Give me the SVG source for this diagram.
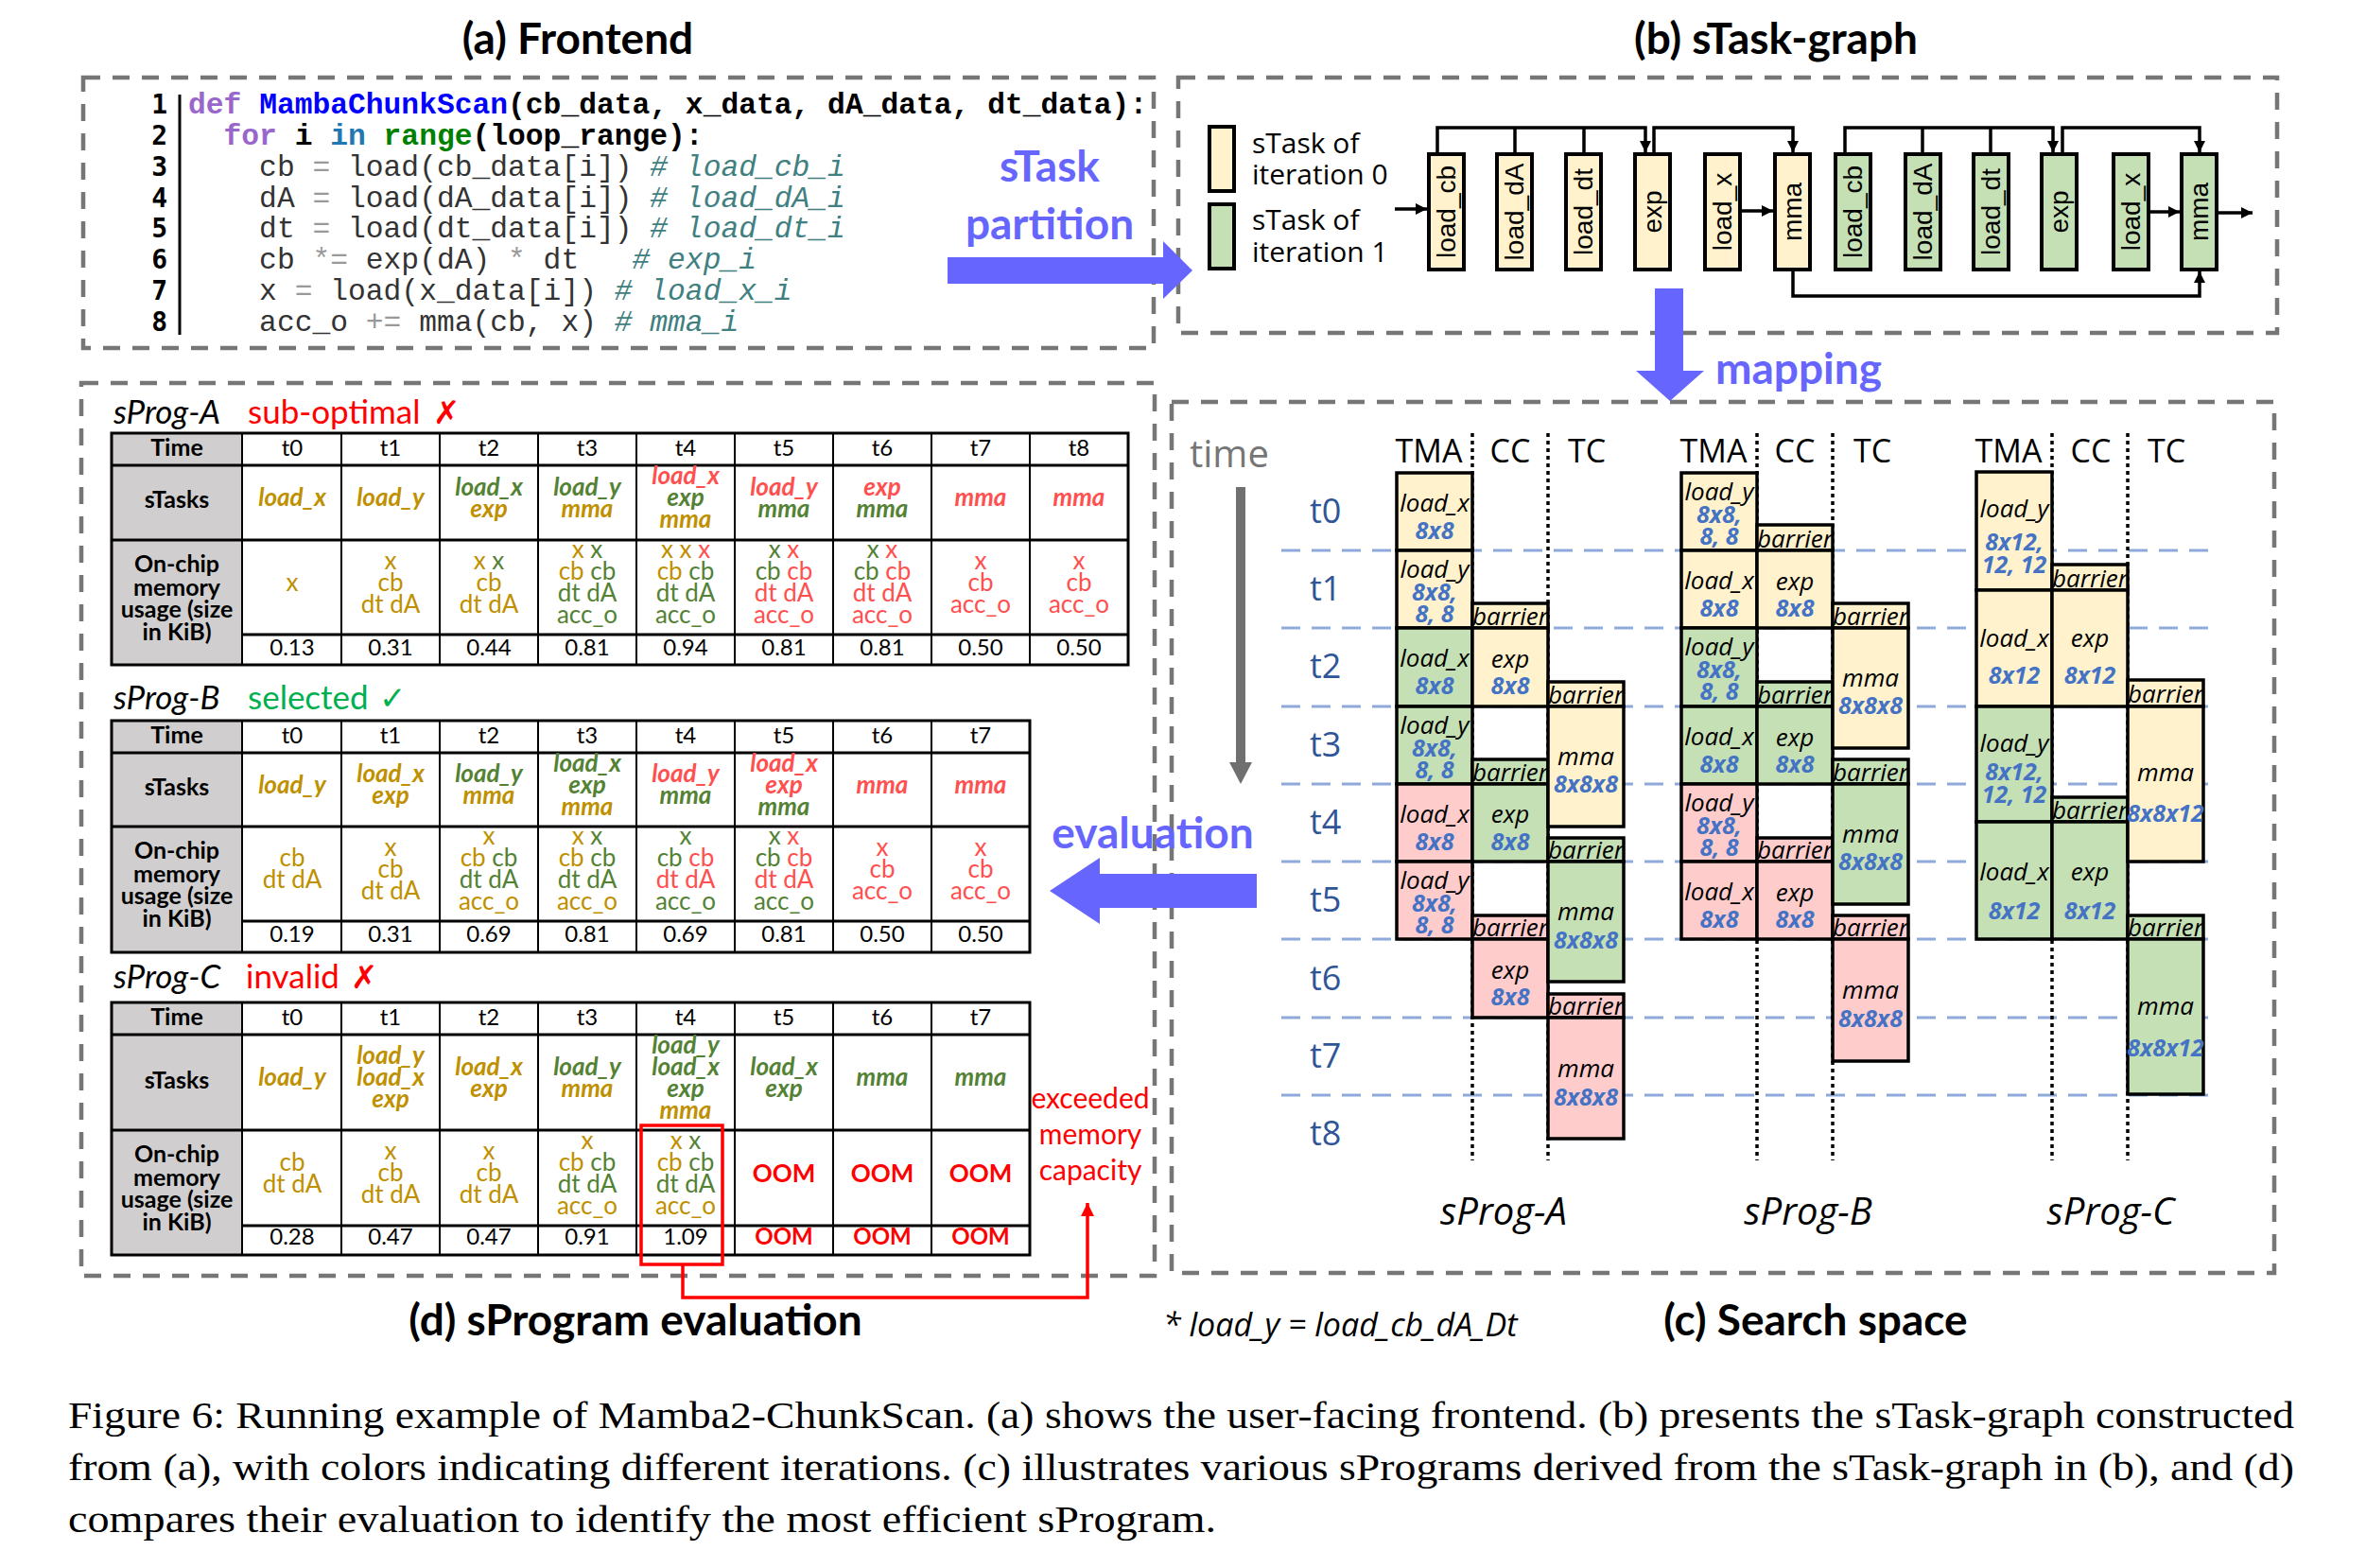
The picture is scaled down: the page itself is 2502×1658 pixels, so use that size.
<svg xmlns="http://www.w3.org/2000/svg" width="2502" height="1658" viewBox="0 0 2502 1658">
<defs>
<marker id="ah" viewBox="0 0 10 10" refX="10" refY="5" markerWidth="12" markerHeight="12" markerUnits="userSpaceOnUse" orient="auto"><path d="M0,0 L10,5 L0,10 z" fill="#000"/></marker>
<marker id="ahr" viewBox="0 0 10 10" refX="10" refY="5" markerWidth="14" markerHeight="14" markerUnits="userSpaceOnUse" orient="auto"><path d="M0,0 L10,5 L0,10 z" fill="#ff0000"/></marker>
<style>
.box{fill:none;stroke:#767676;stroke-width:4.5;stroke-dasharray:18 13}
.title{font-family:Lato,'Liberation Sans',sans-serif;font-weight:bold;font-size:46px;fill:#000;text-anchor:middle}
.code{font-family:'Liberation Mono',monospace;font-size:31.3px;white-space:pre;fill:#333}
.cb{font-weight:bold;fill:#000}
.ln{font-family:'DejaVu Sans Mono',monospace;font-weight:bold;font-size:28px;text-anchor:end}
.op{fill:#999}
.cm{fill:#408080;font-style:italic}
.big{font-family:Lato,sans-serif;font-weight:bold;font-size:46px;fill:#6666ff;text-anchor:middle}
.blue{fill:#6666ff}
.leg{font-family:'Open Sans',sans-serif;font-size:30px}
.nd{stroke:#000;stroke-width:4}
.yl{fill:#fff2cc}.gr{fill:#c5e0b4}.pk{fill:#ffcccc}
.nl{font-family:'Liberation Sans',Arial,sans-serif;font-size:28px;text-anchor:middle;dominant-baseline:central}
.edge{fill:none;stroke:#000;stroke-width:3.5}
.hd{font-family:'Open Sans',sans-serif;font-size:34px;text-anchor:middle}
.tl{font-family:'Open Sans',sans-serif;font-size:36px;fill:#2f5597}
.grid{stroke:#8eaadb;stroke-width:3;stroke-dasharray:20 12}
.dot{stroke:#000;stroke-width:3.5;stroke-dasharray:4 4}
.blk{stroke:#000;stroke-width:3.5}
.bn{font-family:'Open Sans',sans-serif;font-style:italic;font-size:26px;text-anchor:middle}
.bs{font-family:'Open Sans',sans-serif;font-style:italic;font-weight:bold;font-size:25px;fill:#4472c4;text-anchor:middle}
.sp{font-family:'Open Sans',sans-serif;font-style:italic;font-size:40px;text-anchor:middle}
.tb{fill:none;stroke:#000;stroke-width:3}
.tv{stroke:#000;stroke-width:2}
.th{stroke:#000;stroke-width:3}
.hc{font-family:Lato,sans-serif;font-weight:bold;font-size:25px;text-anchor:middle}
.tc{font-family:Lato,sans-serif;font-size:24px;text-anchor:middle}
.sk{font-family:Lato,sans-serif;font-style:italic;font-weight:bold;font-size:26px;text-anchor:middle}
.mm{font-family:Lato,sans-serif;font-size:26px;text-anchor:middle}
.cy{fill:#bf9000}.cg{fill:#548235}.cr{fill:#ff5050}
.oom{fill:#ff0000;font-weight:bold}
.ph{font-family:Lato,sans-serif;font-style:italic;font-size:35px}
.st{font-family:Lato,sans-serif;font-size:35px}
.mk{font-family:'DejaVu Sans',sans-serif;font-size:34px;font-weight:bold}
.cap{font-family:'Liberation Serif','Times New Roman',serif;font-size:41px}
</style>
</defs>
<rect width="2502" height="1658" fill="#fff"/>

<!-- titles -->
<text class="title" x="611" y="57">(a) Frontend</text>
<text class="title" x="1878" y="57">(b) sTask-graph</text>
<text class="title" x="672" y="1412">(d) sProgram evaluation</text>
<text class="title" x="1920" y="1412">(c) Search space</text>
<text x="1230" y="1413" style="font-family:'Open Sans',sans-serif;font-style:italic;font-size:34px">* load_y = load_cb_dA_Dt</text>

<!-- frames -->
<rect class="box" x="88" y="82" width="1132" height="286"/>
<rect class="box" x="1246" y="82" width="1162" height="270"/>
<rect class="box" x="86" y="405" width="1135" height="944"/>
<rect class="box" x="1239" y="425" width="1166" height="921"/>

<!-- (a) frontend code -->
<g id="frontend">
<line x1="190" y1="100" x2="190" y2="354" stroke="#000" stroke-width="3"/>
<text class="ln" x="177" y="120">1</text>
<text class="ln" x="177" y="153">2</text>
<text class="ln" x="177" y="186">3</text>
<text class="ln" x="177" y="219">4</text>
<text class="ln" x="177" y="251">5</text>
<text class="ln" x="177" y="284">6</text>
<text class="ln" x="177" y="317">7</text>
<text class="ln" x="177" y="350">8</text>
<text class="code cb" x="199" y="120" xml:space="preserve"><tspan fill="#9966cc">def</tspan> <tspan fill="#0000ff">MambaChunkScan</tspan>(cb_data, x_data, dA_data, dt_data):</text>
<text class="code cb" x="199" y="153" xml:space="preserve">  <tspan fill="#9966cc">for</tspan> i <tspan fill="#1f77b4">in</tspan> <tspan fill="#008000">range</tspan>(loop_range):</text>
<text class="code" x="199" y="186" xml:space="preserve">    cb <tspan class="op">=</tspan> load(cb_data[i]) <tspan class="cm"># load_cb_i</tspan></text>
<text class="code" x="199" y="219" xml:space="preserve">    dA <tspan class="op">=</tspan> load(dA_data[i]) <tspan class="cm"># load_dA_i</tspan></text>
<text class="code" x="199" y="251" xml:space="preserve">    dt <tspan class="op">=</tspan> load(dt_data[i]) <tspan class="cm"># load_dt_i</tspan></text>
<text class="code" x="199" y="284" xml:space="preserve">    cb <tspan class="op">*=</tspan> exp(dA) <tspan class="op">*</tspan> dt   <tspan class="cm"># exp_i</tspan></text>
<text class="code" x="199" y="317" xml:space="preserve">    x <tspan class="op">=</tspan> load(x_data[i]) <tspan class="cm"># load_x_i</tspan></text>
<text class="code" x="199" y="350" xml:space="preserve">    acc_o <tspan class="op">+=</tspan> mma(cb, x) <tspan class="cm"># mma_i</tspan></text>
</g>

<!-- big labels -->
<text class="big" x="1110" y="192">sTask</text>
<text class="big" x="1110" y="253">partition</text>
<text class="big" x="1902" y="406">mapping</text>
<text class="big" x="1219" y="897">evaluation</text>

<!-- (b) legend -->
<g id="legend">
<rect class="nd yl" x="1279" y="134" width="26" height="68"/>
<rect class="nd gr" x="1279" y="216" width="26" height="68"/>
<text class="leg" x="1324" y="162">sTask of</text>
<text class="leg" x="1324" y="195">iteration 0</text>
<text class="leg" x="1324" y="243">sTask of</text>
<text class="leg" x="1324" y="277">iteration 1</text>
</g>

<!-- (b) nodes -->
<g id="n0"><rect class="nd yl" x="1511" y="163" width="37" height="122"/><text class="nl" transform="translate(1529.5,224) rotate(-90)">load_cb</text></g>
<g id="n1"><rect class="nd yl" x="1583" y="163" width="37" height="122"/><text class="nl" transform="translate(1601.5,224) rotate(-90)">load_dA</text></g>
<g id="n2"><rect class="nd yl" x="1656" y="163" width="37" height="122"/><text class="nl" transform="translate(1674.5,224) rotate(-90)">load_dt</text></g>
<g id="n3"><rect class="nd yl" x="1729" y="163" width="37" height="122"/><text class="nl" transform="translate(1747.5,224) rotate(-90)">exp</text></g>
<g id="n4"><rect class="nd yl" x="1803" y="163" width="37" height="122"/><text class="nl" transform="translate(1821.5,224) rotate(-90)">load_x</text></g>
<g id="n5"><rect class="nd yl" x="1877" y="163" width="37" height="122"/><text class="nl" transform="translate(1895.5,224) rotate(-90)">mma</text></g>
<g id="n6"><rect class="nd gr" x="1941" y="163" width="37" height="122"/><text class="nl" transform="translate(1959.5,224) rotate(-90)">load_cb</text></g>
<g id="n7"><rect class="nd gr" x="2015" y="163" width="37" height="122"/><text class="nl" transform="translate(2033.5,224) rotate(-90)">load_dA</text></g>
<g id="n8"><rect class="nd gr" x="2087" y="163" width="37" height="122"/><text class="nl" transform="translate(2105.5,224) rotate(-90)">load_dt</text></g>
<g id="n9"><rect class="nd gr" x="2159" y="163" width="37" height="122"/><text class="nl" transform="translate(2177.5,224) rotate(-90)">exp</text></g>
<g id="n10"><rect class="nd gr" x="2235" y="163" width="37" height="122"/><text class="nl" transform="translate(2253.5,224) rotate(-90)">load_x</text></g>
<g id="n11"><rect class="nd gr" x="2307" y="163" width="37" height="122"/><text class="nl" transform="translate(2325.5,224) rotate(-90)">mma</text></g>

<!-- connectors -->
<g id="connectors">
<polyline class="edge" points="1520,161 1520,135 1740,135 1740,161" marker-end="url(#ah)"/>
<line class="edge" x1="1602" y1="161" x2="1602" y2="135"/>
<line class="edge" x1="1675" y1="161" x2="1675" y2="135"/>
<polyline class="edge" points="1749,161 1749,135 1896,135 1896,161" marker-end="url(#ah)"/>
<polyline class="edge" points="1951,161 1951,135 2171,135 2171,161" marker-end="url(#ah)"/>
<line class="edge" x1="2033" y1="161" x2="2033" y2="135"/>
<line class="edge" x1="2105" y1="161" x2="2105" y2="135"/>
<polyline class="edge" points="2181,161 2181,135 2326,135 2326,161" marker-end="url(#ah)"/>
<polyline class="edge" points="1896,287 1896,313 2326,313 2326,287" marker-end="url(#ah)"/>
<line class="edge" x1="1475" y1="221" x2="1509" y2="221" stroke-width="4" marker-end="url(#ah)"/>
<line class="edge" x1="1840" y1="223" x2="1875" y2="223" stroke-width="4" marker-end="url(#ah)"/>
<line class="edge" x1="2272" y1="224" x2="2305" y2="224" stroke-width="4" marker-end="url(#ah)"/>
<line class="edge" x1="2346" y1="225" x2="2382" y2="225" stroke-width="4" marker-end="url(#ah)"/>
<polygon class="blue" points="1002,272 1230,272 1230,255 1261,286 1230,316 1230,300 1002,300"/>
<polygon class="blue" points="1750,305 1780,305 1780,392 1802,392 1766,424 1730,392 1750,392"/>
<polygon class="blue" points="1329,924 1163,924 1163,907 1110,942 1163,977 1163,960 1329,960"/>
<polyline fill="none" stroke="#ff0000" stroke-width="3.5" points="722,1337 722,1372 1150,1372 1150,1272" marker-end="url(#ahr)"/>
</g>

<!-- (c) search space -->
<g id="search-space">
<text x="1258" y="494" style="font-family:'Open Sans',sans-serif;font-size:40px;fill:#767676">time</text>
<rect x="1307" y="515" width="10" height="292" fill="#707070"/>
<polygon points="1300,806 1324,806 1312,829" fill="#707070"/>
<text class="tl" x="1385" y="553">t0</text>
<text class="tl" x="1385" y="635">t1</text>
<text class="tl" x="1385" y="717">t2</text>
<text class="tl" x="1385" y="800">t3</text>
<text class="tl" x="1385" y="882">t4</text>
<text class="tl" x="1385" y="964">t5</text>
<text class="tl" x="1385" y="1047">t6</text>
<text class="tl" x="1385" y="1129">t7</text>
<text class="tl" x="1385" y="1211">t8</text>
<line class="grid" x1="1355" y1="582" x2="2346" y2="582"/>
<line class="grid" x1="1355" y1="664" x2="2346" y2="664"/>
<line class="grid" x1="1355" y1="747" x2="2346" y2="747"/>
<line class="grid" x1="1355" y1="829" x2="2346" y2="829"/>
<line class="grid" x1="1355" y1="911" x2="2346" y2="911"/>
<line class="grid" x1="1355" y1="993" x2="2346" y2="993"/>
<line class="grid" x1="1355" y1="1076" x2="2346" y2="1076"/>
<line class="grid" x1="1355" y1="1158" x2="2346" y2="1158"/>
<line class="dot" x1="1557" y1="458" x2="1557" y2="1227"/>
<line class="dot" x1="1637" y1="458" x2="1637" y2="1227"/>
<line class="dot" x1="1858" y1="458" x2="1858" y2="1227"/>
<line class="dot" x1="1938" y1="458" x2="1938" y2="1227"/>
<line class="dot" x1="2170" y1="458" x2="2170" y2="1227"/>
<line class="dot" x1="2250" y1="458" x2="2250" y2="1227"/>
<text class="hd" x="1511" y="489">TMA</text><text class="hd" x="1597" y="489">CC</text><text class="hd" x="1678" y="489">TC</text>
<text class="hd" x="1812" y="489">TMA</text><text class="hd" x="1898" y="489">CC</text><text class="hd" x="1980" y="489">TC</text>
<text class="hd" x="2124" y="489">TMA</text><text class="hd" x="2211" y="489">CC</text><text class="hd" x="2291" y="489">TC</text>
<text class="sp" x="1590" y="1295">sProg-A</text>
<text class="sp" x="1912" y="1295">sProg-B</text>
<text class="sp" x="2232" y="1295">sProg-C</text>
</g>

<!-- sProg-A blocks -->
<g id="a1"><rect class="blk yl" x="1477" y="500" width="80" height="82"/><text class="bn" x="1517" y="541">load_x</text><text class="bs" x="1517" y="570">8x8</text></g>
<g id="a2"><rect class="blk yl" x="1477" y="582" width="80" height="82"/><text class="bn" x="1517" y="611">load_y</text><text class="bs" x="1517" y="635">8x8,</text><text class="bs" x="1517" y="658">8, 8</text></g>
<g id="a3"><rect class="blk gr" x="1477" y="664" width="80" height="83"/><text class="bn" x="1517" y="705">load_x</text><text class="bs" x="1517" y="734">8x8</text></g>
<g id="a4"><rect class="blk gr" x="1477" y="747" width="80" height="82"/><text class="bn" x="1517" y="776">load_y</text><text class="bs" x="1517" y="800">8x8,</text><text class="bs" x="1517" y="823">8, 8</text></g>
<g id="a5"><rect class="blk pk" x="1477" y="829" width="80" height="82"/><text class="bn" x="1517" y="870">load_x</text><text class="bs" x="1517" y="899">8x8</text></g>
<g id="a6"><rect class="blk pk" x="1477" y="911" width="80" height="82"/><text class="bn" x="1517" y="940">load_y</text><text class="bs" x="1517" y="964">8x8,</text><text class="bs" x="1517" y="987">8, 8</text></g>
<g id="a7"><rect class="blk yl" x="1557" y="638" width="80" height="26"/><text class="bn" x="1597" y="661">barrier</text></g>
<g id="a8"><rect class="blk yl" x="1557" y="664" width="80" height="83"/><text class="bn" x="1597" y="706">exp</text><text class="bs" x="1597" y="734">8x8</text></g>
<g id="a9"><rect class="blk gr" x="1557" y="803" width="80" height="26"/><text class="bn" x="1597" y="826">barrier</text></g>
<g id="a10"><rect class="blk gr" x="1557" y="829" width="80" height="82"/><text class="bn" x="1597" y="870">exp</text><text class="bs" x="1597" y="899">8x8</text></g>
<g id="a11"><rect class="blk pk" x="1557" y="968" width="80" height="25"/><text class="bn" x="1597" y="990">barrier</text></g>
<g id="a12"><rect class="blk pk" x="1557" y="993" width="80" height="83"/><text class="bn" x="1597" y="1035">exp</text><text class="bs" x="1597" y="1063">8x8</text></g>
<g id="a13"><rect class="blk yl" x="1637" y="721" width="80" height="26"/><text class="bn" x="1677" y="744">barrier</text></g>
<g id="a14"><rect class="blk yl" x="1637" y="747" width="80" height="127"/><text class="bn" x="1677" y="809">mma</text><text class="bs" x="1677" y="838">8x8x8</text></g>
<g id="a15"><rect class="blk gr" x="1637" y="886" width="80" height="25"/><text class="bn" x="1677" y="908">barrier</text></g>
<g id="a16"><rect class="blk gr" x="1637" y="911" width="80" height="127"/><text class="bn" x="1677" y="973">mma</text><text class="bs" x="1677" y="1003">8x8x8</text></g>
<g id="a17"><rect class="blk pk" x="1637" y="1051" width="80" height="25"/><text class="bn" x="1677" y="1073">barrier</text></g>
<g id="a18"><rect class="blk pk" x="1637" y="1076" width="80" height="128"/><text class="bn" x="1677" y="1139">mma</text><text class="bs" x="1677" y="1169">8x8x8</text></g>

<!-- sProg-B blocks -->
<g id="b1"><rect class="blk yl" x="1778" y="500" width="80" height="82"/><text class="bn" x="1818" y="529">load_y</text><text class="bs" x="1818" y="553">8x8,</text><text class="bs" x="1818" y="576">8, 8</text></g>
<g id="b2"><rect class="blk yl" x="1778" y="582" width="80" height="82"/><text class="bn" x="1818" y="623">load_x</text><text class="bs" x="1818" y="652">8x8</text></g>
<g id="b3"><rect class="blk gr" x="1778" y="664" width="80" height="83"/><text class="bn" x="1818" y="693">load_y</text><text class="bs" x="1818" y="717">8x8,</text><text class="bs" x="1818" y="740">8, 8</text></g>
<g id="b4"><rect class="blk gr" x="1778" y="747" width="80" height="82"/><text class="bn" x="1818" y="788">load_x</text><text class="bs" x="1818" y="817">8x8</text></g>
<g id="b5"><rect class="blk pk" x="1778" y="829" width="80" height="82"/><text class="bn" x="1818" y="858">load_y</text><text class="bs" x="1818" y="882">8x8,</text><text class="bs" x="1818" y="905">8, 8</text></g>
<g id="b6"><rect class="blk pk" x="1778" y="911" width="80" height="82"/><text class="bn" x="1818" y="952">load_x</text><text class="bs" x="1818" y="981">8x8</text></g>
<g id="b7"><rect class="blk yl" x="1858" y="555" width="80" height="27"/><text class="bn" x="1898" y="579">barrier</text></g>
<g id="b8"><rect class="blk yl" x="1858" y="582" width="80" height="82"/><text class="bn" x="1898" y="624">exp</text><text class="bs" x="1898" y="652">8x8</text></g>
<g id="b9"><rect class="blk gr" x="1858" y="721" width="80" height="26"/><text class="bn" x="1898" y="744">barrier</text></g>
<g id="b10"><rect class="blk gr" x="1858" y="747" width="80" height="82"/><text class="bn" x="1898" y="789">exp</text><text class="bs" x="1898" y="817">8x8</text></g>
<g id="b11"><rect class="blk pk" x="1858" y="886" width="80" height="25"/><text class="bn" x="1898" y="908">barrier</text></g>
<g id="b12"><rect class="blk pk" x="1858" y="911" width="80" height="82"/><text class="bn" x="1898" y="953">exp</text><text class="bs" x="1898" y="981">8x8</text></g>
<g id="b13"><rect class="blk yl" x="1938" y="638" width="80" height="26"/><text class="bn" x="1978" y="661">barrier</text></g>
<g id="b14"><rect class="blk yl" x="1938" y="664" width="80" height="127"/><text class="bn" x="1978" y="726">mma</text><text class="bs" x="1978" y="755">8x8x8</text></g>
<g id="b15"><rect class="blk gr" x="1938" y="803" width="80" height="26"/><text class="bn" x="1978" y="826">barrier</text></g>
<g id="b16"><rect class="blk gr" x="1938" y="829" width="80" height="127"/><text class="bn" x="1978" y="891">mma</text><text class="bs" x="1978" y="920">8x8x8</text></g>
<g id="b17"><rect class="blk pk" x="1938" y="968" width="80" height="25"/><text class="bn" x="1978" y="990">barrier</text></g>
<g id="b18"><rect class="blk pk" x="1938" y="993" width="80" height="129"/><text class="bn" x="1978" y="1056">mma</text><text class="bs" x="1978" y="1086">8x8x8</text></g>

<!-- sProg-C blocks -->
<g id="c1"><rect class="blk yl" x="2090" y="499" width="80" height="125"/><text class="bn" x="2130" y="547">load_y</text><text class="bs" x="2130" y="582">8x12,</text><text class="bs" x="2130" y="606">12, 12</text></g>
<g id="c2"><rect class="blk yl" x="2090" y="624" width="80" height="123"/><text class="bn" x="2130" y="684">load_x</text><text class="bs" x="2130" y="723">8x12</text></g>
<g id="c3"><rect class="blk gr" x="2090" y="747" width="80" height="122"/><text class="bn" x="2130" y="795">load_y</text><text class="bs" x="2130" y="825">8x12,</text><text class="bs" x="2130" y="849">12, 12</text></g>
<g id="c4"><rect class="blk gr" x="2090" y="869" width="80" height="124"/><text class="bn" x="2130" y="931">load_x</text><text class="bs" x="2130" y="972">8x12</text></g>
<g id="c5"><rect class="blk yl" x="2170" y="597" width="80" height="27"/><text class="bn" x="2210" y="621">barrier</text></g>
<g id="c6"><rect class="blk yl" x="2170" y="624" width="80" height="123"/><text class="bn" x="2210" y="684">exp</text><text class="bs" x="2210" y="723">8x12</text></g>
<g id="c7"><rect class="blk gr" x="2170" y="843" width="80" height="26"/><text class="bn" x="2210" y="866">barrier</text></g>
<g id="c8"><rect class="blk gr" x="2170" y="869" width="80" height="124"/><text class="bn" x="2210" y="931">exp</text><text class="bs" x="2210" y="972">8x12</text></g>
<g id="c9"><rect class="blk yl" x="2250" y="719" width="80" height="28"/><text class="bn" x="2290" y="743">barrier</text></g>
<g id="c10"><rect class="blk yl" x="2250" y="747" width="80" height="164"/><text class="bn" x="2290" y="826">mma</text><text class="bs" x="2290" y="869">8x8x12</text></g>
<g id="c11"><rect class="blk gr" x="2250" y="968" width="80" height="25"/><text class="bn" x="2290" y="990">barrier</text></g>
<g id="c12"><rect class="blk gr" x="2250" y="993" width="80" height="164"/><text class="bn" x="2290" y="1073">mma</text><text class="bs" x="2290" y="1117">8x8x12</text></g>

<!-- (d) table A -->
<g id="table-a">
<text class="ph" x="120" y="448">sProg-A</text>
<text class="st" x="262" y="448" fill="#ff0000">sub-optimal</text>
<text class="mk" x="458" y="448" fill="#ff0000">✗</text>
<rect x="118" y="458" width="138" height="245" fill="#d0cece"/>
<line class="th" x1="118" y1="492" x2="1193" y2="492"/>
<line class="th" x1="118" y1="571" x2="1193" y2="571"/>
<line class="th" x1="256" y1="671" x2="1193" y2="671"/>
<line class="tv" x1="256" y1="458" x2="256" y2="703"/>
<line class="tv" x1="361" y1="458" x2="361" y2="703"/>
<line class="tv" x1="465" y1="458" x2="465" y2="703"/>
<line class="tv" x1="569" y1="458" x2="569" y2="703"/>
<line class="tv" x1="673" y1="458" x2="673" y2="703"/>
<line class="tv" x1="777" y1="458" x2="777" y2="703"/>
<line class="tv" x1="881" y1="458" x2="881" y2="703"/>
<line class="tv" x1="985" y1="458" x2="985" y2="703"/>
<line class="tv" x1="1089" y1="458" x2="1089" y2="703"/>
<rect class="tb" x="118" y="458" width="1075" height="245"/>
<text class="hc" x="187" y="482">Time</text>
<text class="hc" x="187" y="537">sTasks</text>
<text class="hc" x="187" y="605">On-chip</text><text class="hc" x="187" y="630">memory</text><text class="hc" x="187" y="653">usage (size</text><text class="hc" x="187" y="677">in KiB)</text>
<text class="tc" x="309" y="482">t0</text><text class="tc" x="413" y="482">t1</text><text class="tc" x="517" y="482">t2</text><text class="tc" x="621" y="482">t3</text><text class="tc" x="725" y="482">t4</text><text class="tc" x="829" y="482">t5</text><text class="tc" x="933" y="482">t6</text><text class="tc" x="1037" y="482">t7</text><text class="tc" x="1141" y="482">t8</text>
<text class="sk cy" x="309" y="535">load_x</text>
<text class="sk cy" x="413" y="535">load_y</text>
<text class="sk cg" x="517" y="524">load_x</text><text class="sk cy" x="517" y="547">exp</text>
<text class="sk cg" x="621" y="524">load_y</text><text class="sk cy" x="621" y="547">mma</text>
<text class="sk cr" x="725" y="512">load_x</text><text class="sk cg" x="725" y="535">exp</text><text class="sk cy" x="725" y="558">mma</text>
<text class="sk cr" x="829" y="524">load_y</text><text class="sk cg" x="829" y="547">mma</text>
<text class="sk cr" x="933" y="524">exp</text><text class="sk cg" x="933" y="547">mma</text>
<text class="sk cr" x="1037" y="535">mma</text>
<text class="sk cr" x="1141" y="535">mma</text>
<text class="mm cy" x="309" y="625">x</text>
<text class="mm cy" x="413" y="602">x</text><text class="mm cy" x="413" y="625">cb</text><text class="mm cy" x="413" y="648">dt dA</text>
<text class="mm" x="517" y="602"><tspan class="cy">x</tspan> <tspan class="cg">x</tspan></text><text class="mm cy" x="517" y="625">cb</text><text class="mm cy" x="517" y="648">dt dA</text>
<text class="mm" x="621" y="590"><tspan class="cy">x</tspan> <tspan class="cg">x</tspan></text><text class="mm" x="621" y="613"><tspan class="cy">cb</tspan> <tspan class="cg">cb</tspan></text><text class="mm cg" x="621" y="636">dt dA</text><text class="mm cg" x="621" y="659">acc_o</text>
<text class="mm" x="725" y="590"><tspan class="cy">x</tspan> <tspan class="cy">x</tspan> <tspan class="cr">x</tspan></text><text class="mm" x="725" y="613"><tspan class="cy">cb</tspan> <tspan class="cg">cb</tspan></text><text class="mm cg" x="725" y="636">dt dA</text><text class="mm cg" x="725" y="659">acc_o</text>
<text class="mm" x="829" y="590"><tspan class="cg">x</tspan> <tspan class="cr">x</tspan></text><text class="mm" x="829" y="613"><tspan class="cg">cb</tspan> <tspan class="cr">cb</tspan></text><text class="mm cr" x="829" y="636">dt dA</text><text class="mm cr" x="829" y="659">acc_o</text>
<text class="mm" x="933" y="590"><tspan class="cg">x</tspan> <tspan class="cr">x</tspan></text><text class="mm" x="933" y="613"><tspan class="cg">cb</tspan> <tspan class="cr">cb</tspan></text><text class="mm cr" x="933" y="636">dt dA</text><text class="mm cr" x="933" y="659">acc_o</text>
<text class="mm cr" x="1037" y="602">x</text><text class="mm cr" x="1037" y="625">cb</text><text class="mm cr" x="1037" y="648">acc_o</text>
<text class="mm cr" x="1141" y="602">x</text><text class="mm cr" x="1141" y="625">cb</text><text class="mm cr" x="1141" y="648">acc_o</text>
<text class="tc" x="309" y="693">0.13</text><text class="tc" x="413" y="693">0.31</text><text class="tc" x="517" y="693">0.44</text><text class="tc" x="621" y="693">0.81</text><text class="tc" x="725" y="693">0.94</text><text class="tc" x="829" y="693">0.81</text><text class="tc" x="933" y="693">0.81</text><text class="tc" x="1037" y="693">0.50</text><text class="tc" x="1141" y="693">0.50</text>
</g>

<!-- (d) table B -->
<g id="table-b">
<text class="ph" x="120" y="750">sProg-B</text>
<text class="st" x="262" y="750" fill="#00b050">selected</text>
<text class="mk" x="401" y="750" fill="#00b050">✓</text>
<rect x="118" y="762" width="138" height="245" fill="#d0cece"/>
<line class="th" x1="118" y1="796" x2="1089" y2="796"/>
<line class="th" x1="118" y1="874" x2="1089" y2="874"/>
<line class="th" x1="256" y1="974" x2="1089" y2="974"/>
<line class="tv" x1="256" y1="762" x2="256" y2="1007"/>
<line class="tv" x1="361" y1="762" x2="361" y2="1007"/>
<line class="tv" x1="465" y1="762" x2="465" y2="1007"/>
<line class="tv" x1="569" y1="762" x2="569" y2="1007"/>
<line class="tv" x1="673" y1="762" x2="673" y2="1007"/>
<line class="tv" x1="777" y1="762" x2="777" y2="1007"/>
<line class="tv" x1="881" y1="762" x2="881" y2="1007"/>
<line class="tv" x1="985" y1="762" x2="985" y2="1007"/>
<rect class="tb" x="118" y="762" width="971" height="245"/>
<text class="hc" x="187" y="786">Time</text>
<text class="hc" x="187" y="841">sTasks</text>
<text class="hc" x="187" y="908">On-chip</text><text class="hc" x="187" y="933">memory</text><text class="hc" x="187" y="956">usage (size</text><text class="hc" x="187" y="980">in KiB)</text>
<text class="tc" x="309" y="786">t0</text><text class="tc" x="413" y="786">t1</text><text class="tc" x="517" y="786">t2</text><text class="tc" x="621" y="786">t3</text><text class="tc" x="725" y="786">t4</text><text class="tc" x="829" y="786">t5</text><text class="tc" x="933" y="786">t6</text><text class="tc" x="1037" y="786">t7</text>
<text class="sk cy" x="309" y="839">load_y</text>
<text class="sk cy" x="413" y="827">load_x</text><text class="sk cy" x="413" y="850">exp</text>
<text class="sk cg" x="517" y="827">load_y</text><text class="sk cy" x="517" y="850">mma</text>
<text class="sk cg" x="621" y="816">load_x</text><text class="sk cg" x="621" y="839">exp</text><text class="sk cy" x="621" y="862">mma</text>
<text class="sk cr" x="725" y="827">load_y</text><text class="sk cg" x="725" y="850">mma</text>
<text class="sk cr" x="829" y="816">load_x</text><text class="sk cr" x="829" y="839">exp</text><text class="sk cg" x="829" y="862">mma</text>
<text class="sk cr" x="933" y="839">mma</text>
<text class="sk cr" x="1037" y="839">mma</text>
<text class="mm cy" x="309" y="916">cb</text><text class="mm cy" x="309" y="939">dt dA</text>
<text class="mm cy" x="413" y="905">x</text><text class="mm cy" x="413" y="928">cb</text><text class="mm cy" x="413" y="951">dt dA</text>
<text class="mm cy" x="517" y="893">x</text><text class="mm" x="517" y="916"><tspan class="cy">cb</tspan> <tspan class="cg">cb</tspan></text><text class="mm cg" x="517" y="939">dt dA</text><text class="mm cy" x="517" y="962">acc_o</text>
<text class="mm" x="621" y="893"><tspan class="cy">x</tspan> <tspan class="cg">x</tspan></text><text class="mm" x="621" y="916"><tspan class="cy">cb</tspan> <tspan class="cg">cb</tspan></text><text class="mm cg" x="621" y="939">dt dA</text><text class="mm cy" x="621" y="962">acc_o</text>
<text class="mm cg" x="725" y="893">x</text><text class="mm" x="725" y="916"><tspan class="cg">cb</tspan> <tspan class="cr">cb</tspan></text><text class="mm cr" x="725" y="939">dt dA</text><text class="mm cg" x="725" y="962">acc_o</text>
<text class="mm" x="829" y="893"><tspan class="cg">x</tspan> <tspan class="cr">x</tspan></text><text class="mm" x="829" y="916"><tspan class="cg">cb</tspan> <tspan class="cr">cb</tspan></text><text class="mm cr" x="829" y="939">dt dA</text><text class="mm cg" x="829" y="962">acc_o</text>
<text class="mm cr" x="933" y="905">x</text><text class="mm cr" x="933" y="928">cb</text><text class="mm cr" x="933" y="951">acc_o</text>
<text class="mm cr" x="1037" y="905">x</text><text class="mm cr" x="1037" y="928">cb</text><text class="mm cr" x="1037" y="951">acc_o</text>
<text class="tc" x="309" y="996">0.19</text><text class="tc" x="413" y="996">0.31</text><text class="tc" x="517" y="996">0.69</text><text class="tc" x="621" y="996">0.81</text><text class="tc" x="725" y="996">0.69</text><text class="tc" x="829" y="996">0.81</text><text class="tc" x="933" y="996">0.50</text><text class="tc" x="1037" y="996">0.50</text>
</g>

<!-- (d) table C -->
<g id="table-c">
<text class="ph" x="120" y="1045">sProg-C</text>
<text class="st" x="260" y="1045" fill="#ff0000">invalid</text>
<text class="mk" x="371" y="1045" fill="#ff0000">✗</text>
<rect x="118" y="1060" width="138" height="267" fill="#d0cece"/>
<line class="th" x1="118" y1="1094" x2="1089" y2="1094"/>
<line class="th" x1="118" y1="1195" x2="1089" y2="1195"/>
<line class="th" x1="256" y1="1296" x2="1089" y2="1296"/>
<line class="tv" x1="256" y1="1060" x2="256" y2="1327"/>
<line class="tv" x1="361" y1="1060" x2="361" y2="1327"/>
<line class="tv" x1="465" y1="1060" x2="465" y2="1327"/>
<line class="tv" x1="569" y1="1060" x2="569" y2="1327"/>
<line class="tv" x1="673" y1="1060" x2="673" y2="1327"/>
<line class="tv" x1="777" y1="1060" x2="777" y2="1327"/>
<line class="tv" x1="881" y1="1060" x2="881" y2="1327"/>
<line class="tv" x1="985" y1="1060" x2="985" y2="1327"/>
<rect class="tb" x="118" y="1060" width="971" height="267"/>
<text class="hc" x="187" y="1084">Time</text>
<text class="hc" x="187" y="1151">sTasks</text>
<text class="hc" x="187" y="1229">On-chip</text><text class="hc" x="187" y="1254">memory</text><text class="hc" x="187" y="1277">usage (size</text><text class="hc" x="187" y="1301">in KiB)</text>
<text class="tc" x="309" y="1084">t0</text><text class="tc" x="413" y="1084">t1</text><text class="tc" x="517" y="1084">t2</text><text class="tc" x="621" y="1084">t3</text><text class="tc" x="725" y="1084">t4</text><text class="tc" x="829" y="1084">t5</text><text class="tc" x="933" y="1084">t6</text><text class="tc" x="1037" y="1084">t7</text>
<text class="sk cy" x="309" y="1148">load_y</text>
<text class="sk cy" x="413" y="1125">load_y</text><text class="sk cy" x="413" y="1148">load_x</text><text class="sk cy" x="413" y="1171">exp</text>
<text class="sk cy" x="517" y="1137">load_x</text><text class="sk cy" x="517" y="1160">exp</text>
<text class="sk cg" x="621" y="1137">load_y</text><text class="sk cy" x="621" y="1160">mma</text>
<text class="sk cg" x="725" y="1114">load_y</text><text class="sk cg" x="725" y="1137">load_x</text><text class="sk cg" x="725" y="1160">exp</text><text class="sk cy" x="725" y="1183">mma</text>
<text class="sk cg" x="829" y="1137">load_x</text><text class="sk cg" x="829" y="1160">exp</text>
<text class="sk cg" x="933" y="1148">mma</text>
<text class="sk cg" x="1037" y="1148">mma</text>
<text class="mm cy" x="309" y="1238">cb</text><text class="mm cy" x="309" y="1261">dt dA</text>
<text class="mm cy" x="413" y="1226">x</text><text class="mm cy" x="413" y="1249">cb</text><text class="mm cy" x="413" y="1272">dt dA</text>
<text class="mm cy" x="517" y="1226">x</text><text class="mm cy" x="517" y="1249">cb</text><text class="mm cy" x="517" y="1272">dt dA</text>
<text class="mm cy" x="621" y="1215">x</text><text class="mm" x="621" y="1238"><tspan class="cy">cb</tspan> <tspan class="cg">cb</tspan></text><text class="mm cg" x="621" y="1261">dt dA</text><text class="mm cy" x="621" y="1284">acc_o</text>
<text class="mm" x="725" y="1215"><tspan class="cy">x</tspan> <tspan class="cg">x</tspan></text><text class="mm" x="725" y="1238"><tspan class="cy">cb</tspan> <tspan class="cg">cb</tspan></text><text class="mm cg" x="725" y="1261">dt dA</text><text class="mm cy" x="725" y="1284">acc_o</text>
<text class="mm oom" x="829" y="1250">OOM</text><text class="mm oom" x="933" y="1250">OOM</text><text class="mm oom" x="1037" y="1250">OOM</text>
<text class="tc" x="309" y="1316">0.28</text><text class="tc" x="413" y="1316">0.47</text><text class="tc" x="517" y="1316">0.47</text><text class="tc" x="621" y="1316">0.91</text><text class="tc" x="725" y="1316">1.09</text>
<text class="tc oom" x="829" y="1316">OOM</text><text class="tc oom" x="933" y="1316">OOM</text><text class="tc oom" x="1037" y="1316">OOM</text>
<rect x="678" y="1190" width="86" height="147" fill="none" stroke="#ff0000" stroke-width="3.5"/>
<text class="st" x="1153" y="1172" text-anchor="middle" fill="#ff0000" style="font-size:30px">exceeded</text>
<text class="st" x="1153" y="1210" text-anchor="middle" fill="#ff0000" style="font-size:30px">memory</text>
<text class="st" x="1153" y="1248" text-anchor="middle" fill="#ff0000" style="font-size:30px">capacity</text>
</g>

<!-- caption -->
<text class="cap" x="72" y="1510" textLength="2354" lengthAdjust="spacingAndGlyphs">Figure 6: Running example of Mamba2-ChunkScan. (a) shows the user-facing frontend. (b) presents the sTask-graph constructed</text>
<text class="cap" x="72" y="1565" textLength="2354" lengthAdjust="spacingAndGlyphs">from (a), with colors indicating different iterations. (c) illustrates various sPrograms derived from the sTask-graph in (b), and (d)</text>
<text class="cap" x="72" y="1620" textLength="1214" lengthAdjust="spacingAndGlyphs">compares their evaluation to identify the most efficient sProgram.</text>
</svg>
